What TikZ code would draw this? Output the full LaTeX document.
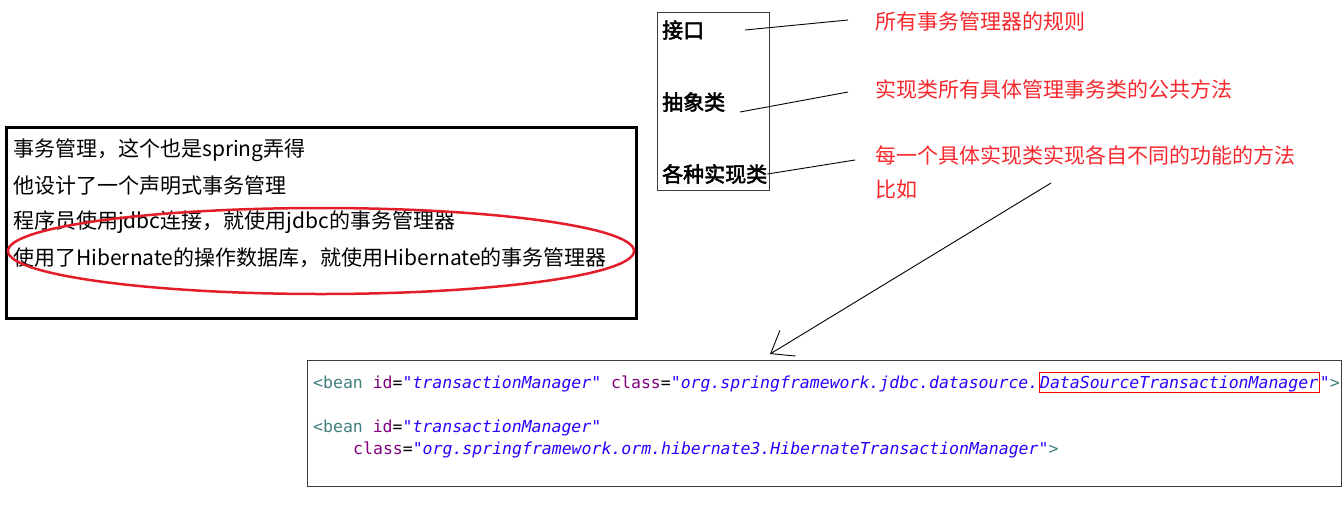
\documentclass[tikz,border=0pt]{standalone}
\usepackage{fontspec}
\usepackage{xcolor}
\usepackage{tikz}
\usetikzlibrary{arrows.meta, positioning}
\newfontfamily\cjk[AutoFakeBold=2.5]{Noto Sans CJK SC}
\newfontfamily\codefont{DejaVu Sans Mono}
\definecolor{notered}{HTML}{F5282D}
\definecolor{ringred}{HTML}{E31E2A}
\definecolor{framegray}{HTML}{3C3C3C}
\definecolor{beanteal}{HTML}{3F7F7F}
\definecolor{attrpurple}{HTML}{7F007F}
\definecolor{valueblue}{HTML}{2A00FF}
\tikzstyle{frame} = [draw=framegray, line width=1pt, inner sep=0pt]
\tikzstyle{plaintext} = [anchor=west, inner sep=0pt, font=\cjk\fontsize{21}{25}\selectfont, text=black]
\tikzstyle{boxlabel} = [plaintext, font=\cjk\bfseries\fontsize{21}{25}\selectfont]
\tikzstyle{notetext} = [plaintext, text=notered]
\tikzstyle{codeline} = [anchor=base west, inner sep=0pt, font=\codefont\fontsize{16.5}{20}\selectfont]
\tikzstyle{link} = [line width=0.9pt, color=black]
\tikzstyle{arrow} = [line width=0.9pt, -{Straight Barb[length=20pt, width=30pt]}, color=black]

\begin{document}
\begin{tikzpicture}[x=1pt, y=-1pt]
    \useasboundingbox (0,0) rectangle (1343,512);

    % Left note
    \node[frame, draw=black, line width=3pt, minimum width=630pt, minimum height=191pt] (notebox) at (321.5,223) {};
    \node[plaintext] (line1) at (13,150) {事务管理，这个也是spring弄得};
    \node[plaintext] (line2) at (13,186) {他设计了一个声明式事务管理};
    \node[plaintext] (line3) at (13,222) {程序员使用jdbc连接，就使用jdbc的事务管理器};
    \node[plaintext] (line4) at (13,258) {使用了Hibernate的操作数据库，就使用Hibernate的事务管理器};
    \draw[ringred, line width=2.5pt] (321,251) ellipse [x radius=313, y radius=43];

    % Class levels
    \node[frame, minimum width=112pt, minimum height=178pt] (levels) at (713,101) {};
    \node[boxlabel] (iface) at (662,30) {接口};
    \node[boxlabel] (abstract) at (662,102) {抽象类};
    \node[boxlabel] (impls) at (662,174) {各种实现类};

    \node[notetext] (rule) at (875,22) {所有事务管理器的规则};
    \node[notetext] (common) at (875,89) {实现类所有具体管理事务类的公共方法};
    \node[notetext] (each) at (875,155) {每一个具体实现类实现各自不同的功能的方法};
    \node[notetext] (example) at (875,190) {比如};

    \coordinate (ifaceout) at (745,30);
    \coordinate (rulein) at (848,20);
    \coordinate (abstractout) at (740,112);
    \coordinate (commonin) at (848,92);
    \coordinate (eachin) at (855,160);
    \draw[link] (ifaceout) -- (rulein);
    \draw[link] (abstractout) -- (commonin);
    \draw[link] (impls.east) -- (eachin);

    % Config snippet
    \node[frame, minimum width=1034pt, minimum height=126pt] (config) at (824,423) {};
    \node[codeline] (beanA) at (313,388) {\textcolor{beanteal}{<bean} \textcolor{attrpurple}{id}=\textcolor{valueblue}{\itshape"transactionManager"} \textcolor{attrpurple}{class}=\textcolor{valueblue}{\itshape"org.springframework.jdbc.datasource.}};
    \node[codeline, draw=red, line width=1pt, inner xsep=1pt, inner ysep=1pt, text height=15pt, text depth=3pt] (dsclass) at (beanA.base east) {\textcolor{valueblue}{\itshape DataSourceTransactionManager}};
    \node[codeline] (beanAend) at (dsclass.base east) {\textcolor{valueblue}{\itshape"}\textcolor{beanteal}{>}};
    \node[codeline] (beanB) at (313,432) {\textcolor{beanteal}{<bean} \textcolor{attrpurple}{id}=\textcolor{valueblue}{\itshape"transactionManager"}};
    \node[codeline] (beanBclass) at (353,454) {\textcolor{attrpurple}{class}=\textcolor{valueblue}{\itshape"org.springframework.orm.hibernate3.HibernateTransactionManager"}\textcolor{beanteal}{>}};

    \coordinate (pointfrom) at (1051,183);
    \coordinate (pointto) at (770,354);
    \draw[arrow] (pointfrom) -- (pointto);
\end{tikzpicture}
\end{document}
